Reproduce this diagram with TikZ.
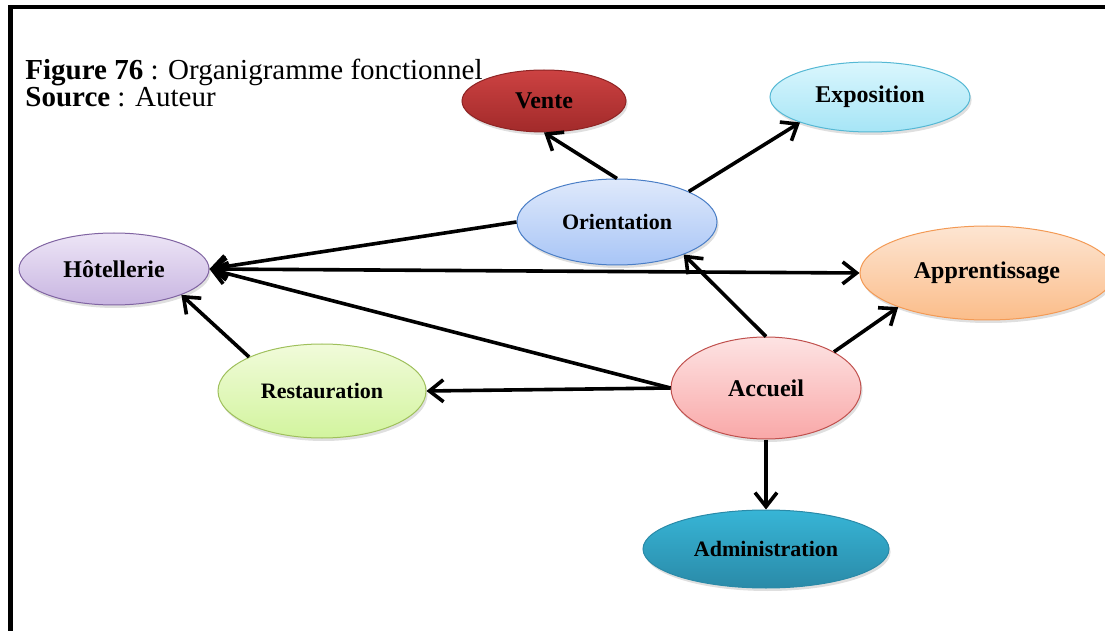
\documentclass[tikz,border=0pt]{standalone}
\usepackage{fontspec}
\setmainfont{Liberation Serif}
\usepackage{xcolor}
\usepackage{tikz}
\usetikzlibrary{shapes.geometric, positioning, arrows.meta, shadows}

\definecolor{venteTop}{HTML}{CC4242}
\definecolor{venteBot}{HTML}{A22A2A}
\definecolor{venteLine}{HTML}{8E2424}
\definecolor{expoTop}{HTML}{DAF6FD}
\definecolor{expoBot}{HTML}{A6E5F6}
\definecolor{expoLine}{HTML}{55B8D4}
\definecolor{orientTop}{HTML}{DFE9FB}
\definecolor{orientBot}{HTML}{A8C5F6}
\definecolor{orientLine}{HTML}{4A7EC6}
\definecolor{hotelTop}{HTML}{EDE5F6}
\definecolor{hotelBot}{HTML}{C8B5E1}
\definecolor{hotelLine}{HTML}{8064A2}
\definecolor{apprTop}{HTML}{FDE5D2}
\definecolor{apprBot}{HTML}{FBBD8A}
\definecolor{apprLine}{HTML}{F39A55}
\definecolor{restoTop}{HTML}{F1FBDA}
\definecolor{restoBot}{HTML}{D2F49E}
\definecolor{restoLine}{HTML}{9FC05C}
\definecolor{accTop}{HTML}{FDE3E3}
\definecolor{accBot}{HTML}{F9A8A8}
\definecolor{accLine}{HTML}{C0504D}
\definecolor{adminTop}{HTML}{37B5D6}
\definecolor{adminBot}{HTML}{2A8AA8}

\begin{document}
\begin{tikzpicture}[
    x=0.5pt, y=-0.5pt,
    pointe/.tip={Straight Barb[length=7pt, width=11pt]},
    bulle/.style={draw, ellipse, line width=0.5pt, inner sep=0pt, align=center,
        font=\bfseries\fontsize{12}{14}\selectfont,
        drop shadow={shadow xshift=0.8pt, shadow yshift=-1.5pt, opacity=0.25}},
    fleche/.style={line width=1.8pt, -pointe},
    titre_style/.style={anchor=base west, inner sep=0pt, font=\fontsize{14.5}{17}\selectfont}
]

    \useasboundingbox (0,0) rectangle (1105,631);

    % ================= CADRE ET TITRE =================
    \draw[line width=2.3pt] (10.5,631) -- (10.5,7) -- (1105,7);

    \node[titre_style] (titre) at (25,80) {\textbf{Figure 76} : Organigramme fonctionnel};
    \node[titre_style] (source) at (25,107) {\textbf{Source} : Auteur};

    % ================= POLES =================
    \node[bulle, minimum width=82pt, minimum height=31pt, top color=venteTop, bottom color=venteBot, draw=venteLine] (vente) at (544,101) {Vente};
    \node[bulle, minimum width=100pt, minimum height=35pt, top color=expoTop, bottom color=expoBot, draw=expoLine] (expo) at (870,97) {Exposition};
    \node[bulle, minimum width=100pt, minimum height=43pt, top color=orientTop, bottom color=orientBot, draw=orientLine, font=\bfseries\fontsize{11}{13}\selectfont] (orient) at (617,222) {Orientation};
    \node[bulle, minimum width=95pt, minimum height=36pt, top color=hotelTop, bottom color=hotelBot, draw=hotelLine] (hotel) at (114,269) {Hôtellerie};
    \node[bulle, minimum width=127pt, minimum height=47pt, top color=apprTop, bottom color=apprBot, draw=apprLine] (appr) at (987,273) {Apprentissage};
    \node[bulle, minimum width=104pt, minimum height=47pt, top color=restoTop, bottom color=restoBot, draw=restoLine, font=\bfseries\fontsize{11}{13}\selectfont] (resto) at (322,391) {Restauration};
    \node[bulle, minimum width=95pt, minimum height=51pt, top color=accTop, bottom color=accBot, draw=accLine] (accueil) at (766,388) {Accueil};
    \node[bulle, minimum width=123pt, minimum height=39pt, top color=adminTop, bottom color=adminBot, draw=adminBot, font=\bfseries\fontsize{11}{13}\selectfont] (admin) at (766,549) {Administration};

    % ================= LIENS =================
    \draw[fleche] (orient.north) -- (vente.south);
    \draw[fleche] (orient.23) -- (expo.200);
    \draw[fleche] (orient.west) -- (hotel.east);
    \draw[fleche, pointe-pointe] (hotel.east) -- (appr.west);
    \draw[fleche] (accueil.west) -- (hotel.east);
    \draw[fleche] (resto.155) -- (hotel.-21);
    \draw[fleche] (accueil.west) -- (resto.east);
    \draw[fleche] (accueil.north) -- (orient.-26);
    \draw[fleche] (accueil.28) -- (appr.201);
    \draw[fleche] (accueil.south) -- (admin.north);

\end{tikzpicture}
\end{document}
